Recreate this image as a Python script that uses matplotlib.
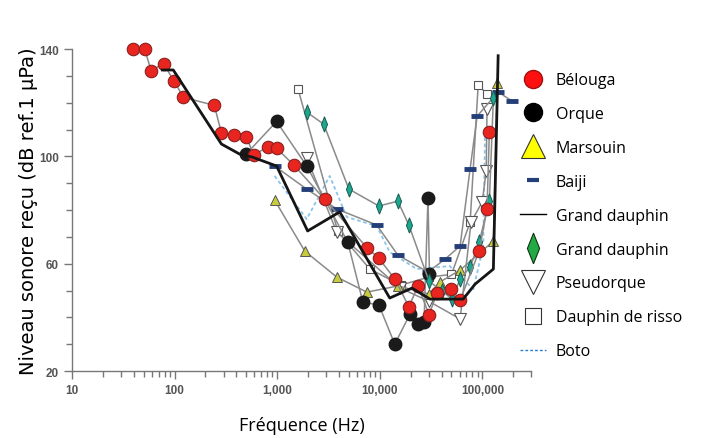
import numpy as np
import matplotlib
matplotlib.use("Agg")
import matplotlib.pyplot as plt
from matplotlib.lines import Line2D
from matplotlib.ticker import FixedLocator, NullFormatter

# audiogrammes (fréquence en Hz, seuil en dB)
beluga_f = [39, 51, 59, 78, 99, 122, 244, 286, 383, 502, 589, 806, 987, 1450, 2900,
            7480, 9800, 14000, 19200, 23600, 30200, 36100, 49500, 60700, 93000, 111000, 117000]
beluga_db = [140, 140, 132, 134.5, 128, 122, 119, 108.7, 108, 107.2, 100.5, 103.5, 103, 96.8, 84,
             66, 62, 54.3, 44, 51.7, 41, 49, 50.5, 46.4, 64.7, 80.4, 109]

orque_f = [502, 987, 1940, 4880, 6840, 9800, 14000, 19700, 23600, 27000, 29500, 30500]
orque_db = [101, 113, 96.4, 68, 45.7, 44.6, 30, 41.2, 37.5, 38.2, 84.5, 56]

marsouin_f = [944, 1855, 3810, 7480, 15000, 30200, 38600, 60700, 128000, 140000]
marsouin_db = [83.7, 64.7, 55, 49.4, 51.7, 48.7, 53.2, 57.6, 68.4, 127.3]

baiji_f = [944, 1940, 3810, 9350, 15000, 29500, 43300, 60700, 75900, 89000, 142500, 195000]
baiji_db = [96.4, 87.8, 80.4, 74.4, 63.2, 56.9, 61.7, 66.6, 95.3, 115, 124, 120.6]

gd_f = [76, 97, 286, 428, 575, 987, 1980, 4070, 12500, 20600, 30900, 65000, 85000, 128000, 142500]
gd_db = [132.2, 132.2, 104.6, 100.9, 99.7, 96.4, 72.2, 79.3, 47.2, 50.9, 46.8, 46.8, 52.4, 58, 137.5]

gd2_f = [1940, 2840, 5000, 9800, 15000, 19200, 30200, 40400, 50700, 60700, 75900, 93000, 117000, 128000]
gd2_db = [116.5, 112, 87.8, 81.5, 83.3, 74.4, 53.5, 49.8, 46.8, 54.3, 58.7, 68, 83.3, 121.7]

pseudo_f = [1940, 3810, 15700, 30000, 60700, 77600, 99600, 109000, 111000]
pseudo_db = [99.4, 71.8, 51, 46, 39.4, 75.5, 83, 94.5, 117.6]

risso_f = [1600, 3900, 8000, 16000, 30000, 50000, 76000, 91000, 111000]
risso_db = [125, 72, 58, 52, 55, 56, 75.5, 126.6, 123.2]

boto_f = [944, 1940, 3250, 4770, 9350, 12500, 23000, 48000, 81800, 102000, 106000]
boto_db = [92.7, 76.6, 92.7, 77.4, 74, 64.3, 58, 59.1, 50.5, 66.6, 107.6]

x_ticks = [10, 100, 1000, 10000, 100000]
x_labels = ["10", "100", "1,000", "10,000", "100,000"]
y_ticks = [20, 60, 100, 140]

gris = "#8a8a8a"
marine = "#233e78"
losange = [(0, -1), (0.4, 0), (0, 1), (-0.4, 0), (0, -1)]

fig = plt.figure(figsize=(7.18, 4.39), dpi=100)
ax = fig.add_axes([0.1003, 0.1526, 0.6397, 0.7334])

ax.plot(boto_f, boto_db, color="#8cc4ea", lw=1.3, ls=(0, (2, 1.5)), zorder=2)
ax.plot(risso_f, risso_db, color=gris, lw=1.1, marker="s", ms=5.5, mfc="white", mec="#555555",
        mew=0.8, zorder=3, clip_on=False)
ax.plot(pseudo_f, pseudo_db, color=gris, lw=1.1, marker="v", ms=9, mfc="white", mec="#555555",
        mew=0.8, zorder=3, clip_on=False)
ax.plot(baiji_f, baiji_db, color=gris, lw=1.1, marker="_", ms=8, mec=marine, mew=3.5,
        zorder=3, clip_on=False)
ax.plot(marsouin_f, marsouin_db, color=gris, lw=1.1, marker="^", ms=7, mfc="#c8cc3c", mec="#555555",
        mew=0.7, zorder=3, clip_on=False)
ax.plot(orque_f, orque_db, color=gris, lw=1.1, marker="o", ms=9, mfc="#1a1a1a", mec="#1a1a1a",
        zorder=4, clip_on=False)
ax.plot(gd2_f, gd2_db, color=gris, lw=1.1, marker=losange, ms=11, mfc="#1aa890", mec="#1c5a50",
        mew=0.7, zorder=4, clip_on=False)
ax.plot(beluga_f, beluga_db, color=gris, lw=1.1, marker="o", ms=9, mfc="#e8251f", mec="#8a2020",
        mew=0.8, zorder=5, clip_on=False)
ax.plot(gd_f, gd_db, color="#151515", lw=2, zorder=6, clip_on=False)

ax.set_xscale("log")
ax.set_xlim(10, 300000)
ax.set_ylim(20, 140)
ax.xaxis.set_major_locator(FixedLocator(x_ticks))
ax.set_xticklabels(x_labels)
minor = [m * 10 ** e for e in range(1, 6) for m in range(2, 10) if m * 10 ** e <= 300000]
ax.xaxis.set_minor_locator(FixedLocator(minor))
ax.xaxis.set_minor_formatter(NullFormatter())
ax.set_yticks(y_ticks)
ax.set_yticks(np.arange(20, 141, 10), minor=True)

for s in ["top", "right"]:
    ax.spines[s].set_visible(False)
for s in ["left", "bottom"]:
    ax.spines[s].set_color("#777777")
    ax.spines[s].set_linewidth(1)
ax.tick_params(which="both", direction="out", color="#777777", width=1)
ax.tick_params(which="major", length=6, labelsize=8.5, labelcolor="#555555")
ax.tick_params(which="minor", length=4)
for t in ax.get_xticklabels() + ax.get_yticklabels():
    t.set_fontweight("bold")
    t.set_family("Liberation Sans")

ax.set_ylabel("Niveau sonore reçu (dB ref.1 µPa)", fontsize=14, labelpad=1)
ax.set_xlabel("Fréquence (Hz)", fontsize=13, family="Open Sans", labelpad=14)

handles = [
    Line2D([], [], ls="none", marker="o", ms=13, mfc="#ff1010", mec="#a01010"),
    Line2D([], [], ls="none", marker="o", ms=13, mfc="black", mec="black"),
    Line2D([], [], ls="none", marker="^", ms=17, mfc="#ffff00", mec="#333333", mew=0.8),
    Line2D([], [], ls="none", marker="_", ms=8, mec=marine, mew=3),
    Line2D([], [], color="black", lw=1),
    Line2D([], [], ls="none", marker=losange, ms=22, mfc="#22aa44", mec="#113311", mew=0.8),
    Line2D([], [], ls="none", marker="v", ms=17, mfc="white", mec="#333333", mew=0.8),
    Line2D([], [], ls="none", marker="s", ms=11, mfc="white", mec="#333333", mew=0.8),
    Line2D([], [], color="#2a7fd0", lw=1, ls=(0, (2, 1.5))),
]
labels = ["Bélouga", "Orque", "Marsouin", "Baiji", "Grand dauphin", "Grand dauphin",
          "Pseudorque", "Dauphin de risso", "Boto"]
fig.legend(handles, labels, loc="upper left", bbox_to_anchor=(0.716, 0.848), frameon=False,
           prop={"family": "Open Sans", "size": 11.5}, labelspacing=1.12, handlelength=1.6,
           handletextpad=0.6, borderaxespad=0)

fig.savefig("out.png", dpi=100)
